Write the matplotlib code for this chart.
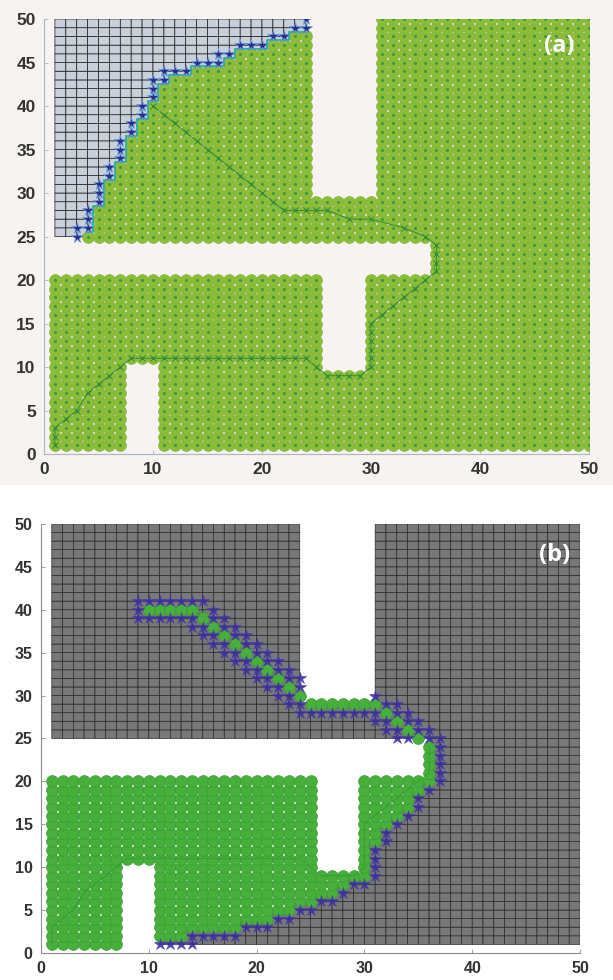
import numpy as np
import matplotlib
matplotlib.use("Agg")
import matplotlib.pyplot as plt
from matplotlib.colors import ListedColormap
from matplotlib.patches import Rectangle

N = 50
# obstacle blocks (x0, x1, y0, y1), inclusive cell indices - same map in both panels
obstacles = [(8, 10, 1, 10), (1, 35, 21, 24), (26, 29, 10, 20), (25, 30, 30, 50)]

# ---------------- panel (a) ----------------
# highest explored cell per column x=1..24 (cells above stay unexplored)
a_top = [24, 24, 24, 25, 28, 31, 33, 36, 38, 40, 42, 43, 43, 44, 44, 44,
         45, 46, 46, 46, 47, 47, 48, 48]
a_stars = [(3, 25), (3, 26), (4, 26), (4, 27), (4, 28), (5, 29), (5, 30), (5, 31),
           (6, 32), (6, 33), (7, 34), (7, 35), (7, 36), (8, 37), (8, 38), (9, 39),
           (9, 40), (10, 41), (10, 42), (10, 43), (11, 43), (11, 44), (12, 44),
           (13, 44), (14, 45), (15, 45), (16, 45), (16, 46), (17, 46), (18, 47),
           (19, 47), (20, 47), (21, 48), (22, 48), (23, 49), (24, 49), (24, 50)]
a_path = [(1, 1), (1, 2), (1, 3), (2, 4), (3, 5), (4, 7), (5, 8), (6, 9), (7, 10),
          (8, 11), (9, 11), (10, 11), (11, 11), (12, 11), (13, 11), (14, 11),
          (15, 11), (16, 11), (17, 11), (18, 11), (19, 11), (20, 11), (21, 11),
          (22, 11), (23, 11), (24, 11), (25, 10), (26, 9), (27, 9), (28, 9),
          (29, 9), (30, 10), (30, 11), (30, 12), (30, 13), (30, 14), (30, 15),
          (31, 16), (32, 17), (33, 18), (34, 19), (35, 20), (36, 21), (36, 22),
          (36, 23), (36, 24), (35, 25), (33, 26), (30, 27), (28, 27), (26, 28),
          (25, 28), (24, 28), (23, 28), (22, 28), (21, 29), (20, 30), (19, 31),
          (18, 32), (17, 33), (16, 34), (15, 35), (14, 36), (13, 37), (12, 38),
          (11, 39), (10, 40)]

# ---------------- panel (b) ----------------
# lowest explored cell per column x=1..36 in the lower area (explored up to y=20)
b_bottom = [1, 1, 1, 1, 1, 1, 1, 1, 1, 1, 2, 2, 2, 3, 3, 3, 3, 3, 4, 4, 4,
            5, 5, 6, 6, 7, 7, 8, 9, 9, 13, 15, 16, 17, 19, 20]
b_band = [(10, 40), (11, 40), (12, 40), (13, 40), (14, 40), (15, 39), (16, 38),
          (17, 37), (18, 36), (19, 35), (20, 34), (21, 33), (22, 32), (23, 31),
          (24, 30), (25, 29), (26, 29), (27, 29), (28, 29), (29, 29), (30, 29),
          (31, 29), (32, 28), (33, 27), (34, 26), (35, 25), (36, 24), (36, 23),
          (36, 22), (36, 21)]
b_stars = [(9, 41), (10, 41), (11, 41), (12, 41), (13, 41), (14, 41), (15, 41),
           (9, 40), (9, 39), (10, 39), (11, 39), (12, 39), (13, 39), (14, 39),
           (14, 38),
           (16, 39), (17, 38), (18, 37), (19, 36), (20, 35), (21, 34), (22, 33),
           (23, 32), (24, 31),
           (16, 40), (17, 39), (18, 38), (19, 37), (20, 36), (21, 35), (22, 34),
           (23, 33), (24, 32),
           (15, 38), (16, 37), (17, 36), (18, 35), (19, 34), (20, 33), (21, 32),
           (22, 31), (23, 30), (24, 29),
           (15, 37), (16, 36), (17, 35), (18, 34), (19, 33), (20, 32), (21, 31),
           (22, 30), (23, 29), (24, 28),
           (25, 28), (26, 28), (27, 28), (28, 28), (29, 28), (30, 28), (31, 28),
           (31, 30), (32, 29), (33, 28), (34, 27), (35, 26), (36, 25),
           (33, 29), (34, 28), (35, 27), (36, 26),
           (32, 27), (33, 26), (34, 25), (31, 27), (32, 26), (33, 25),
           (11, 1), (12, 1), (13, 1), (14, 1), (14, 2), (15, 2), (16, 2), (17, 2),
           (18, 2), (19, 3), (20, 3), (21, 3), (22, 4), (23, 4), (24, 5), (25, 5),
           (26, 6), (27, 6), (28, 7), (29, 8), (30, 8), (31, 9), (31, 10),
           (31, 11), (31, 12), (32, 13), (32, 14), (33, 15), (34, 16), (35, 17),
           (35, 18), (36, 19), (37, 20), (37, 21), (37, 22), (37, 23), (37, 24),
           (37, 25)]

# ---- occupancy masks, indexed [x, y] ----
free = np.zeros((N + 1, N + 1), bool)
free[1:, 1:] = True
for x0, x1, y0, y1 in obstacles:
    free[x0:x1 + 1, y0:y1 + 1] = False

a_unexp = np.zeros_like(free)
for x, top in enumerate(a_top, start=1):
    a_unexp[x, top + 1:] = True
a_unexp &= free
a_expl = free & ~a_unexp

b_expl = np.zeros_like(free)
for x, bot in enumerate(b_bottom, start=1):
    b_expl[x, bot:21] = True
for x, y in b_band:
    b_expl[x, y] = True
b_expl &= free
b_unexp = free & ~b_expl


def faces(unexp):
    # pcolor-style faces: all four corner nodes free, at least one unexplored
    u = unexp[1:, 1:]
    fr = free[1:, 1:]
    ok = fr[:-1, :-1] & fr[1:, :-1] & fr[:-1, 1:] & fr[1:, 1:]
    anyu = u[:-1, :-1] | u[1:, :-1] | u[:-1, 1:] | u[1:, 1:]
    f = ok & anyu
    return np.ma.masked_where(~f.T, np.ones(f.T.shape))


edges = np.arange(1, N + 1)
BG_A = '#f6f3f1'

fig = plt.figure(figsize=(6.13, 9.8), dpi=100, facecolor='white')
fig.patches.append(Rectangle((0, 0.505), 1, 0.495, transform=fig.transFigure,
                             facecolor=BG_A, edgecolor='none', zorder=-5))


def style(ax, fs, spine_col):
    ax.set_xlim(0, 50)
    ax.set_ylim(0, 50)
    ax.set_xticks(range(0, 51, 10))
    ax.set_yticks(range(0, 51, 5))
    for s in ['top', 'right']:
        ax.spines[s].set_visible(False)
    for s in ['left', 'bottom']:
        ax.spines[s].set_color(spine_col)
        ax.spines[s].set_linewidth(0.8)
    ax.tick_params(direction='in', length=3, width=0.6, color=spine_col,
                   labelsize=fs, labelcolor='#333333', pad=6)
    for lab in ax.get_xticklabels() + ax.get_yticklabels():
        lab.set_family('Liberation Sans')
        lab.set_fontweight('bold')


# ---------------- (a) ----------------
ax1 = fig.add_axes([0.0718, 0.5367, 0.889, 0.4439])
ax1.set_facecolor(BG_A)
ax1.pcolor(edges, edges, faces(a_unexp), cmap=ListedColormap(['#c8d0da']),
           edgecolors='#1a1a1a', linewidth=0.5, zorder=1)
gx, gy = np.nonzero(a_expl)
ax1.scatter(gx, gy, s=72, marker='o', color='#8dbd38', edgecolors='#80b63c',
            linewidths=0.5, zorder=2)
ax1.scatter(gx, gy, s=1.5, color='#3a9a40', zorder=3)
top_x = np.arange(4, 25)
ax1.step(top_x, np.array(a_top[3:]) + 0.55, where='mid', color='#24b09a', lw=1.3, zorder=3)
px, py = zip(*a_path)
ax1.plot(px, py, color='#2e8b3a', lw=0.7, marker='x', ms=4, mew=0.7, zorder=4)
sx, sy = zip(*a_stars)
ax1.plot(sx, sy, ls='none', marker='*', ms=8.5, mfc='#2b2c8c', mec='#6c9fd8',
         mew=0.6, zorder=5)
style(ax1, 12.5, '#a9b6c4')
fig.text(0.912, 0.953, '(a)', color='white', fontsize=17, fontweight='bold',
         family='Open Sans', ha='center', va='center')

# ---------------- (b) ----------------
ax2 = fig.add_axes([0.0669, 0.0276, 0.8793, 0.4378])
ax2.set_facecolor('white')
ax2.pcolor(edges, edges, faces(b_unexp), cmap=ListedColormap(['#787878']),
           edgecolors='#282828', linewidth=0.5, zorder=1)
gx, gy = np.nonzero(b_expl)
ax2.scatter(gx, gy, s=72, marker='o', color='#46b03a', edgecolors='#3a9c34',
            linewidths=0.5, zorder=2)
n_low = a_path.index((36, 24)) + 1
px, py = zip(*a_path[:n_low])
ax2.plot(px, py, color='#2f9335', lw=0.7, alpha=0.7, zorder=3)
sx, sy = zip(*b_stars)
ax2.plot(sx, sy, ls='none', marker='*', ms=9, mfc='#3a2f9c', mec='#4a40a8',
         mew=0.5, alpha=0.9, zorder=5)
style(ax2, 11.5, '#8c8c8c')
fig.text(0.905, 0.434, '(b)', color='white', fontsize=17, fontweight='bold',
         family='Open Sans', ha='center', va='center')

fig.savefig('out.png', dpi=100, facecolor=fig.get_facecolor())
